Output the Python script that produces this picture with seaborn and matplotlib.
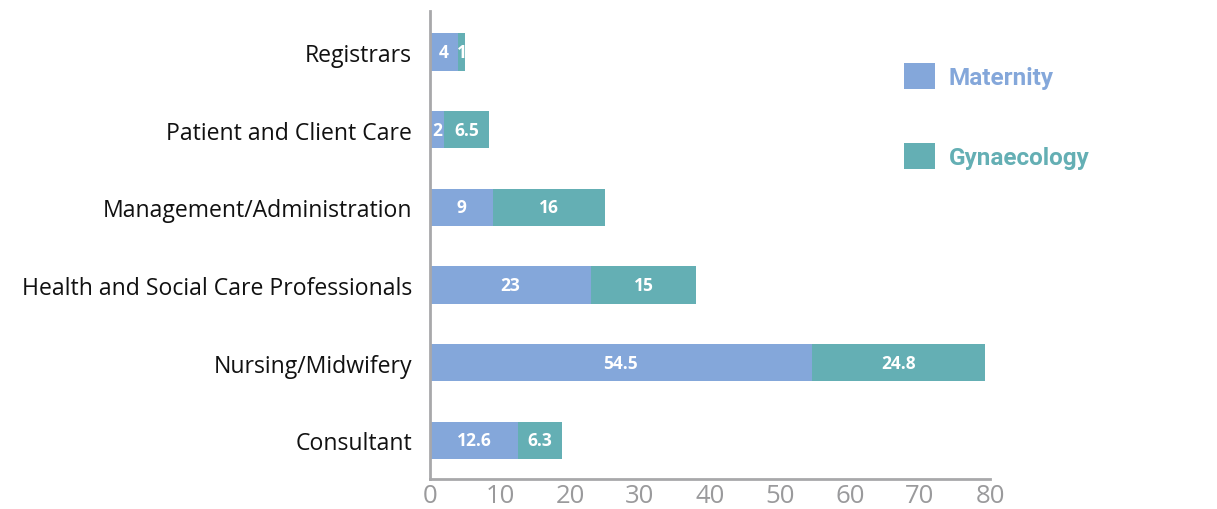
import matplotlib
matplotlib.use("Agg")
import matplotlib.pyplot as plt
from matplotlib.patches import Patch
import seaborn as sns
import pandas as pd

categories = ["Registrars", "Patient and Client Care", "Management/Administration",
              "Health and Social Care Professionals", "Nursing/Midwifery", "Consultant"]
maternity = [4, 2, 9, 23, 54.5, 12.6]
gynaecology = [1, 6.5, 16, 15, 24.8, 6.3]
x_ticks = [0, 10, 20, 30, 40, 50, 60, 70, 80]

mat_color = "#84A7DA"
gyn_color = "#64AFB4"
axis_gray = "#A8A8AA"
tick_gray = "#9A9A9C"

df = pd.DataFrame({"category": categories, "Maternity": maternity, "Gynaecology": gynaecology})
df["total"] = df["Maternity"] + df["Gynaecology"]

sns.set_style("white")
plt.rcParams["font.family"] = ["Open Sans", "DejaVu Sans"]

fig = plt.figure(figsize=(12.17, 5.10), dpi=100)
ax = fig.add_axes([0.3533, 0.0588, 0.4602, 0.9177])

# stacked bars: full total in the gynaecology colour, maternity part over it
sns.barplot(data=df, y="category", x="total", order=categories, color=gyn_color,
            saturation=1, width=0.48, ax=ax, orient="h", linewidth=0, edgecolor="none")
sns.barplot(data=df, y="category", x="Maternity", order=categories, color=mat_color,
            saturation=1, width=0.48, ax=ax, orient="h", linewidth=0, edgecolor="none")

for i, (m, g) in enumerate(zip(maternity, gynaecology)):
    ax.text(m / 2, i, f"{m:g}", ha="center", va="center", color="white",
            fontsize=12.5, fontweight="bold")
    ax.text(m + g / 2, i, f"{g:g}", ha="center", va="center", color="white",
            fontsize=12.5, fontweight="bold")

ax.set_xlim(0, 80)
ax.set_ylim(5.5, -0.53)
ax.set_xticks(x_ticks)
ax.set_xlabel("")
ax.set_ylabel("")
for side in ["top", "right"]:
    ax.spines[side].set_visible(False)
for side in ["left", "bottom"]:
    ax.spines[side].set_color(axis_gray)
    ax.spines[side].set_linewidth(2)
ax.tick_params(axis="x", direction="in", length=9, width=1.5, color=axis_gray,
               labelcolor=tick_gray, labelsize=18.5, pad=3)
ax.tick_params(axis="y", length=0, labelsize=16.6, labelcolor="#111111", pad=13)

handles = [Patch(facecolor=mat_color, edgecolor="none", label="Maternity"),
           Patch(facecolor=gyn_color, edgecolor="none", label="Gynaecology")]
leg = fig.legend(handles=handles, loc="upper left", bbox_to_anchor=(0.7245, 0.918),
                 frameon=False, handlelength=1.3, handleheight=1.3, handletextpad=0.55,
                 labelspacing=2.2, prop={"family": "Roboto", "weight": "bold", "size": 17.5},
                 labelcolor=[mat_color, gyn_color])

fig.savefig("out.png", dpi=100, facecolor="white")
